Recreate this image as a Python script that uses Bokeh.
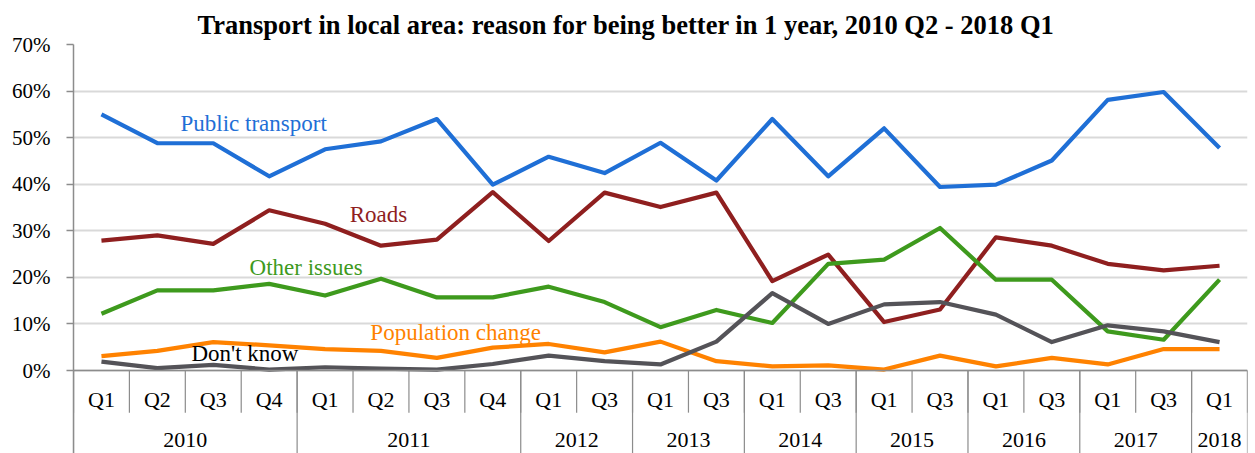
from bokeh.plotting import figure
from bokeh.models import (FactorRange, ColumnDataSource, NumeralTickFormatter, FixedTicker,
                          Range1d, Label, Span)
from bokeh.core.properties import value
from bokeh.embed import file_html
from bokeh.resources import INLINE

# ---------------- data ----------------
years = ["2010"] * 4 + ["2011"] * 4 + ["2012", "2012", "2013", "2013", "2014", "2014",
                                       "2015", "2015", "2016", "2016", "2017", "2017", "2018"]
quarters = ["Q1", "Q2", "Q3", "Q4", "Q1", "Q2", "Q3", "Q4", "Q1", "Q3", "Q1", "Q3",
            "Q1", "Q3", "Q1", "Q3", "Q1", "Q3", "Q1", "Q3", "Q1"]

public_transport = [55.0, 48.8, 48.8, 41.7, 47.5, 49.2, 54.0, 39.9, 45.9, 42.4, 48.9,
                    40.8, 54.0, 41.7, 52.0, 39.4, 39.9, 45.1, 58.1, 59.8, 47.8]
roads = [27.9, 29.0, 27.2, 34.4, 31.5, 26.8, 28.1, 38.3, 27.8, 38.2, 35.1,
         38.2, 19.2, 24.9, 10.4, 13.1, 28.6, 26.8, 22.9, 21.5, 22.5]
other_issues = [12.2, 17.2, 17.2, 18.6, 16.1, 19.7, 15.7, 15.7, 18.0, 14.7, 9.3,
                13.0, 10.2, 22.9, 23.8, 30.6, 19.5, 19.5, 8.4, 6.6, 19.5]
population_change = [3.1, 4.2, 6.1, 5.4, 4.6, 4.2, 2.7, 4.9, 5.7, 3.9, 6.2,
                     2.0, 0.9, 1.1, 0.2, 3.2, 0.9, 2.7, 1.3, 4.6, 4.6]
dont_know = [1.9, 0.5, 1.2, 0.2, 0.7, 0.4, 0.2, 1.4, 3.2, 2.0, 1.3,
             6.2, 16.6, 10.0, 14.2, 14.7, 12.0, 6.1, 9.7, 8.4, 6.1]

y_ticks = [0, 10, 20, 30, 40, 50, 60, 70]

title = "Transport in local area: reason for being better in 1 year, 2010 Q2 - 2018 Q1"

# ---------------- build ----------------
factors = list(zip(years, quarters))
n = len(factors)
group_names = list(dict.fromkeys(years))
group_bounds = [0] + [i for i in range(1, n) if years[i] != years[i - 1]] + [n]
all_bounds = list(range(n + 1))

src = ColumnDataSource(dict(
    x=factors,
    q=quarters,
    pt=[v / 100 for v in public_transport],
    rd=[v / 100 for v in roads],
    oi=[v / 100 for v in other_issues],
    pc=[v / 100 for v in population_change],
    dk=[v / 100 for v in dont_know],
))

FONT = "Liberation Serif"
AXIS_GREY = "#8c8c8c"

# the frame is extended below 0 so the Excel-style category table fits inside it
Y_BOTTOM = -0.1782
Q_ROW = -0.0623
YEAR_ROW = -0.150
SEP_SHORT = -0.0905

p = figure(width=1255, height=453,
           x_range=FactorRange(*factors, factor_padding=0, group_padding=0,
                               subgroup_padding=0, range_padding=0),
           y_range=Range1d(Y_BOTTOM, max(y_ticks) / 100),
           x_axis_location=None,
           output_backend="svg", toolbar_location=None,
           min_border_left=73, min_border_right=8, min_border_top=44, min_border_bottom=0)

p.title.text = title
p.title.align = "left"
p.title.offset = 124
p.title.text_font = FONT
p.title.text_font_size = "26.5px"
p.title.text_font_style = "bold"
p.title.text_color = "black"
p.title.standoff = 9
p.outline_line_color = None
p.background_fill_color = "white"
p.border_fill_color = "white"

# grid
p.xgrid.grid_line_color = None
p.ygrid.grid_line_color = "#d9d9d9"
p.ygrid.grid_line_width = 2

# y axis
ya = p.yaxis[0]
ya.ticker = FixedTicker(ticks=[t / 100 for t in y_ticks])
ya.formatter = NumeralTickFormatter(format="0%")
ya.axis_line_color = AXIS_GREY
ya.axis_line_width = 1.5
ya.major_tick_line_color = AXIS_GREY
ya.major_tick_line_width = 1.5
ya.major_tick_out = 7
ya.major_tick_in = 0
ya.minor_tick_line_color = None
ya.major_label_standoff = 16
ya.major_label_text_font = FONT
ya.major_label_text_font_size = "21px"
ya.major_label_text_color = "black"

# category axis (Excel style table below the 0% line)
p.add_layout(Span(location=0, dimension="width", line_color=AXIS_GREY, line_width=1.5))
p.segment(x0=all_bounds, y0=[0] * len(all_bounds), x1=all_bounds, y1=[SEP_SHORT] * len(all_bounds),
          line_color=AXIS_GREY, line_width=1.2)
p.segment(x0=group_bounds, y0=[0] * len(group_bounds), x1=group_bounds,
          y1=[Y_BOTTOM] * len(group_bounds), line_color=AXIS_GREY, line_width=1.2)
p.text(x="x", y=Q_ROW, text="q", source=src, text_font=value(FONT), text_font_size=value("22px"),
       text_color="black", text_align="center", text_baseline="middle")
p.text(x=group_names, y=[YEAR_ROW] * len(group_names), text=group_names, text_font=value(FONT),
       text_font_size=value("22px"), text_color="black", text_align="center", text_baseline="middle")

# series
series = [
    ("pt", "#1f6fd6"),
    ("rd", "#8f1f1f"),
    ("oi", "#3e9a1d"),
    ("pc", "#ff8200"),
    ("dk", "#545358"),
]
for col, color in series:
    p.line(x="x", y=col, source=src, line_color=color, line_width=4.2, line_join="round")

# series labels
labels = [
    ("Public transport", 1.914, 0.530, "#1f6fd6"),
    ("Roads", 4.94, 0.334, "#8f1f1f"),
    ("Other issues", 3.15, 0.2216, "#3e9a1d"),
    ("Population change", 5.31, 0.0822, "#ff8200"),
    ("Don't know", 2.11, 0.0365, "black"),
]
for txt, lx, ly, c in labels:
    p.add_layout(Label(x=lx, y=ly, text=txt, text_color=c, text_font=FONT,
                       text_font_size="23px", text_baseline="middle", text_align="left"))

open("out.html", "w").write(file_html(p, INLINE))
